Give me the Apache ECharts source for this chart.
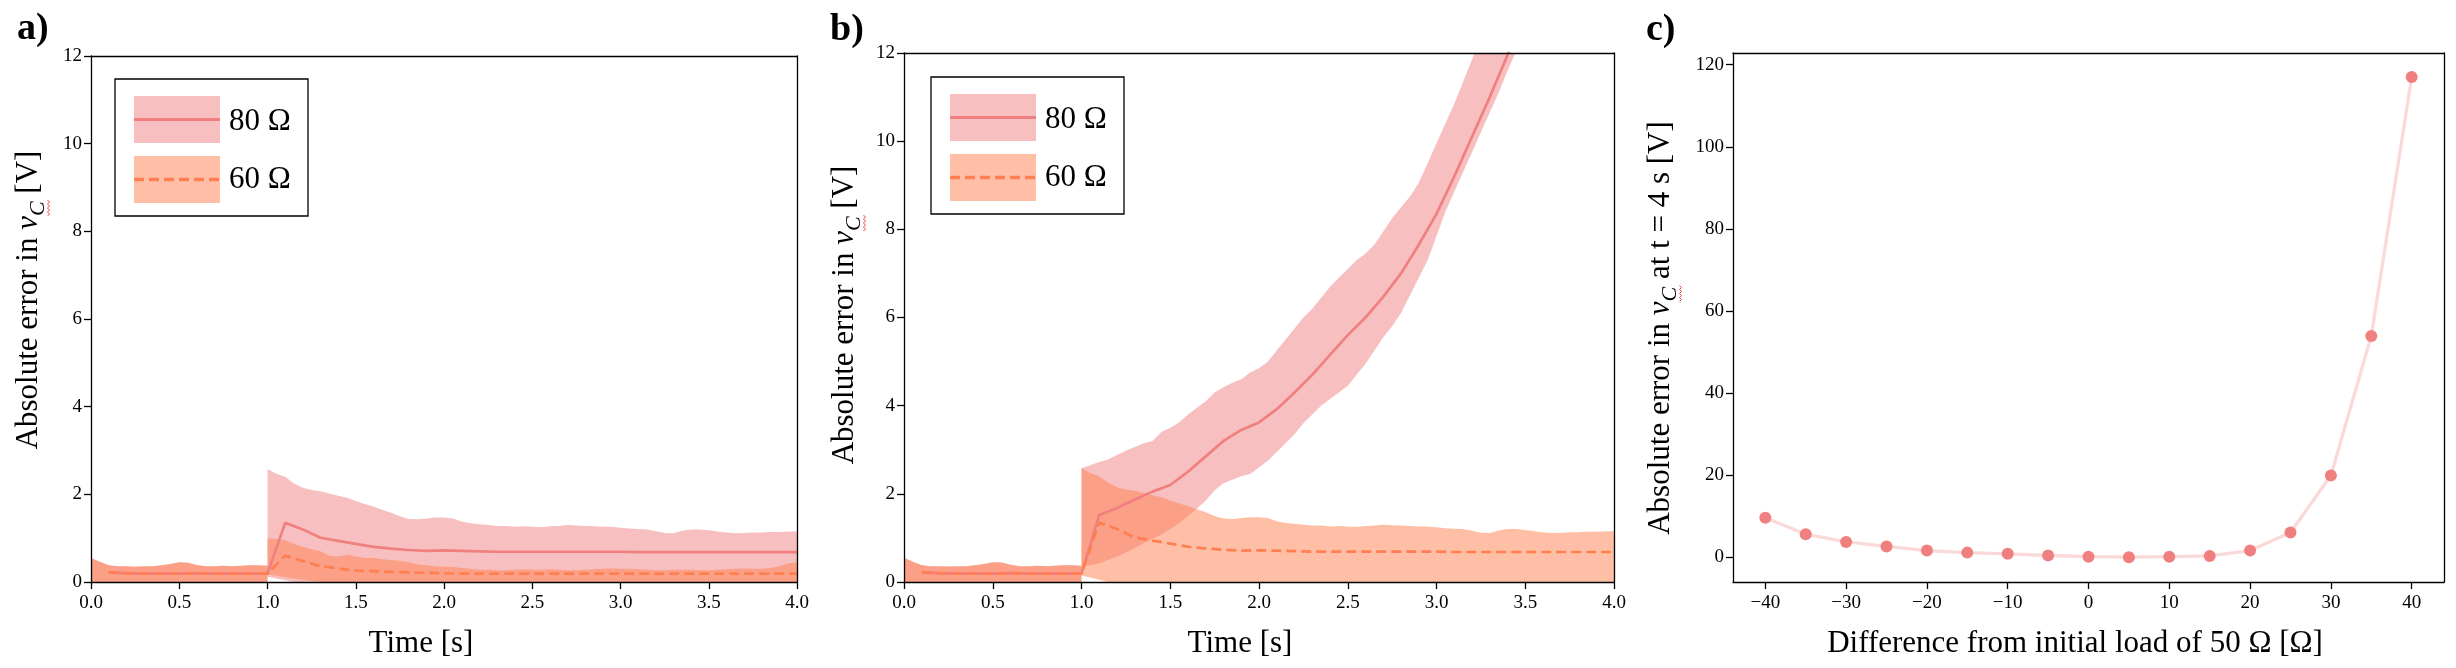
<!DOCTYPE html>
<html>
<head>
<meta charset="utf-8">
<script src="https://cdn.jsdelivr.net/npm/echarts@6/dist/echarts.min.js"></script>
<style>
html,body{margin:0;padding:0;background:#fff;}
#chart{width:2456px;height:668px;}
</style>
</head>
<body>
<div id="chart"></div>
<script>
// ---------------- DATA ----------------
// time samples for bands (before and after the load change at t = 1 s)
const tPre = [0,0.05,0.1,0.15,0.2,0.25,0.3,0.35,0.4,0.45,0.5,0.55,0.6,0.65,0.7,0.75,0.8,0.85,0.9,0.95,1.0];
const tPost = [1.0,1.05,1.1,1.15,1.2,1.25,1.3,1.35,1.4,1.45,1.5,1.55,1.6,1.65,1.7,1.75,1.8,1.85,1.9,1.95,
  2.0,2.05,2.1,2.15,2.2,2.25,2.3,2.35,2.4,2.45,2.5,2.55,2.6,2.65,2.7,2.75,2.8,2.85,2.9,2.95,
  3.0,3.05,3.1,3.15,3.2,3.25,3.3,3.35,3.4,3.45,3.5,3.55,3.6,3.65,3.7,3.75,3.8,3.85,3.9,3.95,4.0];
const tMean = [0.1,0.2,0.3,0.4,0.5,0.6,0.7,0.8,0.9,1.0,1.1,1.2,1.3,1.4,1.5,1.6,1.7,1.8,1.9,2.0,
  2.1,2.2,2.3,2.4,2.5,2.6,2.7,2.8,2.9,3.0,3.1,3.2,3.3,3.4,3.5,3.6,3.7,3.8,3.9,4.0];

// shared band before the change (all cases identical)
const preUpper = [0.55,0.46,0.38,0.36,0.36,0.35,0.36,0.36,0.38,0.41,0.45,0.44,0.39,0.36,0.36,0.37,0.36,0.37,0.38,0.38,0.37];
const preLowerT = [0,1.0];
const preLower = [0,0];

// panel a) 80 Ohm
const a80Upper = [2.58,2.47,2.40,2.25,2.15,2.10,2.07,2.02,1.97,1.92,
  1.85,1.78,1.72,1.65,1.58,1.50,1.44,1.43,1.45,1.47,
  1.47,1.45,1.38,1.34,1.32,1.30,1.28,1.28,1.26,1.27,
  1.26,1.25,1.27,1.28,1.30,1.29,1.28,1.27,1.26,1.26,
  1.24,1.22,1.21,1.20,1.16,1.12,1.11,1.17,1.20,1.20,
  1.18,1.15,1.13,1.11,1.12,1.13,1.13,1.14,1.14,1.15,1.15];
const a80LowerT = [1.0,1.05,1.1,1.15,4.0];
const a80Lower = [0.12,0.08,0.04,0,0];
const a80Mean = [0.22,0.20,0.19,0.19,0.19,0.20,0.19,0.19,0.19,0.19,
  1.35,1.20,1.01,0.94,0.87,0.80,0.76,0.73,0.71,0.72,
  0.71,0.70,0.69,0.69,0.69,0.69,0.69,0.69,0.69,0.69,
  0.68,0.68,0.68,0.68,0.68,0.68,0.68,0.68,0.68,0.68];

// panel a) 60 Ohm
const a60Upper = [1.00,0.98,0.95,0.87,0.80,0.75,0.70,0.60,0.58,0.62,
  0.58,0.55,0.55,0.52,0.50,0.48,0.45,0.40,0.38,0.36,
  0.35,0.34,0.32,0.30,0.28,0.28,0.27,0.27,0.28,0.29,
  0.28,0.28,0.29,0.28,0.27,0.27,0.28,0.29,0.30,0.31,
  0.30,0.30,0.29,0.28,0.27,0.27,0.28,0.28,0.28,0.27,
  0.27,0.28,0.29,0.30,0.31,0.30,0.30,0.32,0.36,0.42,0.45];
const a60LowerT = [1.0,1.05,1.1,1.15,1.2,1.25,1.3,4.0];
const a60Lower = [0.17,0.14,0.11,0.08,0.05,0.02,0,0];
const a60Mean = [0.22,0.20,0.19,0.19,0.19,0.20,0.19,0.19,0.19,0.19,
  0.60,0.48,0.36,0.31,0.26,0.25,0.23,0.22,0.21,0.20,
  0.19,0.19,0.19,0.19,0.19,0.19,0.19,0.19,0.19,0.19,
  0.19,0.19,0.19,0.19,0.19,0.19,0.19,0.19,0.19,0.19];

// panel b) 80 Ohm
const b80Upper = [2.58,2.65,2.72,2.78,2.88,2.98,3.06,3.15,3.20,3.40,
  3.50,3.62,3.80,3.95,4.10,4.30,4.42,4.52,4.60,4.75,
  4.85,5.00,5.25,5.50,5.75,6.00,6.20,6.45,6.70,6.90,
  7.10,7.30,7.45,7.65,7.95,8.25,8.50,8.74,9.05,9.50,
  9.95,10.40,10.85,11.35,11.85,12.30,12.80,13.30,13.80,14.30,
  14.90,15.40,16.00,16.60,17.20,17.80,18.50,19.20,19.90,20.60,21.40];
const b80Lower = [0.37,0.38,0.42,0.50,0.58,0.67,0.77,0.88,0.98,1.08,
  1.20,1.33,1.50,1.66,1.85,2.08,2.24,2.32,2.40,2.45,
  2.60,2.75,2.95,3.15,3.35,3.60,3.80,4.00,4.15,4.30,
  4.45,4.70,4.95,5.25,5.55,5.80,6.10,6.50,6.90,7.30,
  7.85,8.40,8.85,9.30,9.75,10.20,10.65,11.10,11.60,12.05,
  12.50,13.00,13.50,14.00,14.60,15.20,15.80,16.40,17.10,17.80,18.50];
const b80Mean = [0.22,0.20,0.19,0.19,0.19,0.20,0.19,0.19,0.19,0.19,
  1.52,1.68,1.87,2.05,2.20,2.50,2.85,3.20,3.45,3.62,
  3.92,4.30,4.70,5.15,5.60,6.00,6.47,7.00,7.65,8.35,
  9.20,10.10,11.00,11.95,13.00,14.10,15.30,16.60,18.20,19.90];

// panel b) 60 Ohm
const b60Upper = [2.58,2.47,2.40,2.25,2.15,2.10,2.07,2.02,1.97,1.92,
  1.85,1.78,1.72,1.65,1.58,1.50,1.44,1.43,1.45,1.47,
  1.47,1.45,1.38,1.34,1.32,1.30,1.28,1.28,1.26,1.27,
  1.26,1.25,1.27,1.28,1.30,1.29,1.28,1.27,1.26,1.26,
  1.24,1.22,1.21,1.20,1.16,1.12,1.11,1.17,1.20,1.20,
  1.18,1.15,1.13,1.11,1.12,1.13,1.13,1.14,1.14,1.15,1.15];
const b60LowerT = [1.0,1.05,1.1,1.15,4.0];
const b60Lower = [0.15,0.10,0.05,0,0];
const b60Mean = [0.22,0.20,0.19,0.19,0.19,0.20,0.19,0.19,0.19,0.19,
  1.35,1.20,1.01,0.94,0.87,0.80,0.76,0.73,0.71,0.72,
  0.71,0.70,0.69,0.69,0.69,0.69,0.69,0.69,0.69,0.69,
  0.68,0.68,0.68,0.68,0.68,0.68,0.68,0.68,0.68,0.68];

// panel c)
const cDiff = [-40,-35,-30,-25,-20,-15,-10,-5,0,5,10,15,20,25,30,35,40];
const cErr = [9.6,5.6,3.7,2.6,1.6,1.1,0.8,0.4,0.1,0.0,0.1,0.3,1.6,6.0,19.9,53.9,117.0];

const ticksAB_Y = [0,2,4,6,8,10,12];
const ticksC_X = [-40,-30,-20,-10,0,10,20,30,40];
const ticksC_Y = [0,20,40,60,80,100,120];

// ---------------- STYLE ----------------
const FONT = "'Liberation Serif', 'Times New Roman', serif";
const C80 = '#F08080';
const C60 = '#FF7F50';
const F80 = 'rgba(240,128,128,0.5)';
const F60 = 'rgba(255,127,80,0.5)';

const grids = [
  {left: 91, top: 56, width: 706, height: 526},
  {left: 904, top: 53, width: 710, height: 529},
  {left: 1733, top: 53, width: 711, height: 529}
];

const lineAx = {show: true, onZero: false, lineStyle: {color: '#000', width: 1.3}};
const tickAx = {show: true, length: 7, inside: false, lineStyle: {color: '#000', width: 1.3}};

function mainX(gi, opts) {
  return Object.assign({
    type: 'value', gridIndex: gi, z: 10,
    axisLine: lineAx, axisTick: tickAx, splitLine: {show: false},
    axisLabel: {fontSize: 19, fontFamily: FONT, color: '#000', margin: 12}
  }, opts);
}
function mainY(gi, opts) {
  return Object.assign({
    type: 'value', gridIndex: gi, z: 10,
    axisLine: lineAx, axisTick: tickAx, splitLine: {show: false},
    axisLabel: {fontSize: 19, fontFamily: FONT, color: '#000', margin: 9}
  }, opts);
}
function borderAxis(gi, pos, min, max, isX) {
  return {
    type: 'value', gridIndex: gi, position: pos, min: min, max: max, z: 10,
    axisLine: lineAx, axisTick: {show: false}, axisLabel: {show: false}, splitLine: {show: false}
  };
}

const xAxes = [
  mainX(0, {min: 0, max: 4, interval: 0.5, axisLabel: {fontSize: 19, fontFamily: FONT, color: '#000', margin: 12, formatter: v => v.toFixed(1)}}),
  mainX(1, {min: 0, max: 4, interval: 0.5, axisLabel: {fontSize: 19, fontFamily: FONT, color: '#000', margin: 12, formatter: v => v.toFixed(1)}}),
  mainX(2, {min: -44, max: 44,
    axisTick: Object.assign({customValues: ticksC_X}, tickAx),
    axisLabel: {fontSize: 19, fontFamily: FONT, color: '#000', margin: 12, customValues: ticksC_X,
      formatter: v => String(v).replace('-', '\u2212')}}),
  borderAxis(0, 'top', 0, 4), borderAxis(1, 'top', 0, 4), borderAxis(2, 'top', -44, 44)
];
const yAxes = [
  mainY(0, {min: 0, max: 12, interval: 2}),
  mainY(1, {min: 0, max: 12, interval: 2}),
  mainY(2, {min: -6.06, max: 122.86,
    axisTick: Object.assign({customValues: ticksC_Y}, tickAx),
    axisLabel: {fontSize: 19, fontFamily: FONT, color: '#000', margin: 9, customValues: ticksC_Y}}),
  borderAxis(0, 'right', 0, 12), borderAxis(1, 'right', 0, 12), borderAxis(2, 'right', -6.06, 122.86)
];

// band drawn as a polygon through the axis scales
function band(gi, upT1, up1, upT2, up2, loT2, lo2, loT1, lo1, fill) {
  return {
    type: 'custom', xAxisIndex: gi, yAxisIndex: gi, clip: true, silent: true,
    data: [[0, 0]],
    renderItem: function (params, api) {
      const pts = [];
      for (let i = 0; i < upT1.length; i++) pts.push(api.coord([upT1[i], up1[i]]));
      for (let i = 0; i < upT2.length; i++) pts.push(api.coord([upT2[i], up2[i]]));
      for (let i = loT2.length - 1; i >= 0; i--) pts.push(api.coord([loT2[i], lo2[i]]));
      for (let i = loT1.length - 1; i >= 0; i--) pts.push(api.coord([loT1[i], lo1[i]]));
      return {type: 'polygon', shape: {points: pts}, style: {fill: fill}};
    }
  };
}
function meanLine(gi, vals, color, dashed) {
  return {
    type: 'line', xAxisIndex: gi, yAxisIndex: gi, silent: true,
    data: tMean.map((t, i) => [t, vals[i]]),
    symbol: 'none', clip: true,
    lineStyle: {color: color, width: 2.7, type: dashed ? [10, 5] : 'solid', cap: 'butt'}
  };
}

const series = [
  band(0, tPre, preUpper, tPost, a80Upper, a80LowerT, a80Lower, preLowerT, preLower, F80),
  meanLine(0, a80Mean, C80, false),
  band(0, tPre, preUpper, tPost, a60Upper, a60LowerT, a60Lower, preLowerT, preLower, F60),
  meanLine(0, a60Mean, C60, true),
  band(1, tPre, preUpper, tPost, b80Upper, tPost, b80Lower, preLowerT, preLower, F80),
  meanLine(1, b80Mean, C80, false),
  band(1, tPre, preUpper, tPost, b60Upper, b60LowerT, b60Lower, preLowerT, preLower, F60),
  meanLine(1, b60Mean, C60, true),
  {
    type: 'line', xAxisIndex: 2, yAxisIndex: 2, silent: true,
    data: cDiff.map((d, i) => [d, cErr[i]]),
    symbol: 'circle', symbolSize: 12, showSymbol: true,
    itemStyle: {color: C80, borderWidth: 0},
    lineStyle: {color: 'rgba(240,128,128,0.3)', width: 3.3}
  }
];

// ---------------- TEXT / LEGEND GRAPHICS ----------------
const mctx = document.createElement('canvas').getContext('2d');
function measure(txt, size, italic) {
  mctx.font = (italic ? 'italic ' : '') + size + 'px ' + FONT;
  return mctx.measureText(txt).width;
}
function txt(text, size, opts) {
  return Object.assign({
    type: 'text',
    style: Object.assign({text: text, fontSize: size, fontFamily: FONT, fill: '#000',
      align: 'left', verticalAlign: 'middle', textAlign: 'left', textVerticalAlign: 'middle'}, opts && opts.style)
  }, opts && opts.el);
}
function yTitle(cx, cy, before, after) {
  const parts = [
    {t: before, size: 31, italic: false, dy: 0},
    {t: 'v', size: 31, italic: true, dy: 0},
    {t: 'C', size: 22, italic: true, dy: 9, squiggle: true},
    {t: after, size: 31, italic: false, dy: 0}
  ];
  const widths = parts.map(p => measure(p.t, p.size, p.italic));
  const W = widths.reduce((a, b) => a + b, 0);
  let x = -W / 2;
  const children = [];
  parts.forEach((p, i) => {
    children.push({
      type: 'text', x: x, y: p.dy,
      style: {text: p.t, fontSize: p.size, fontFamily: FONT, fontStyle: p.italic ? 'italic' : 'normal', fill: '#000',
        align: 'left', verticalAlign: 'middle', textAlign: 'left', textVerticalAlign: 'middle'}
    });
    if (p.squiggle) {
      const pts = [];
      const y0 = p.dy + 10;
      for (let k = 0; k <= Math.ceil(widths[i] / 2); k++) pts.push([x + k * 2, y0 + (k % 2 ? 1.5 : -0.5)]);
      children.push({type: 'polyline', shape: {points: pts}, style: {stroke: '#E03030', lineWidth: 0.9, fill: null}});
    }
    x += widths[i];
  });
  return {type: 'group', x: cx, y: cy, rotation: Math.PI / 2, children: children};
}
function legend(bx, by) {
  return {
    type: 'group', x: bx, y: by, children: [
      {type: 'rect', shape: {x: 0, y: 0, width: 193, height: 137}, style: {fill: '#fff', stroke: '#000', lineWidth: 1.3}},
      {type: 'rect', shape: {x: 19, y: 17, width: 86, height: 47}, style: {fill: F80}},
      {type: 'line', shape: {x1: 19, y1: 40.5, x2: 105, y2: 40.5}, style: {stroke: C80, lineWidth: 3}},
      {type: 'rect', shape: {x: 19, y: 77, width: 86, height: 47}, style: {fill: F60}},
      {type: 'line', shape: {x1: 19, y1: 100.5, x2: 105, y2: 100.5}, style: {stroke: C60, lineWidth: 3.5, lineDash: [10, 5]}},
      txt('80 \u03A9', 31, {el: {x: 114, y: 43}}),
      txt('60 \u03A9', 31, {el: {x: 114, y: 101}})
    ]
  };
}
function centered(text, size, x, y) {
  return {type: 'text', x: x, y: y, style: {text: text, fontSize: size, fontFamily: FONT, fill: '#000',
    align: 'center', verticalAlign: 'middle', textAlign: 'center', textVerticalAlign: 'middle'}};
}
function panelLabel(text, x, y) {
  return {type: 'text', x: x, y: y, style: {text: text, fontSize: 38, fontWeight: 'bold', fontFamily: FONT, fill: '#000',
    align: 'left', verticalAlign: 'middle', textAlign: 'left', textVerticalAlign: 'middle'}};
}

const graphics = [
  panelLabel('a)', 17, 29),
  panelLabel('b)', 830, 30),
  panelLabel('c)', 1646, 30),
  centered('Time [s]', 31, 421, 644),
  centered('Time [s]', 31, 1240, 644),
  centered('Difference from initial load of 50 \u03A9 [\u03A9]', 31, 2075, 644),
  yTitle(29, 300, 'Absolute error in ', ' [V]'),
  yTitle(845, 315, 'Absolute error in ', ' [V]'),
  yTitle(1661, 328, 'Absolute error in ', ' at t = 4 s [V]'),
  legend(115, 79),
  legend(931, 77)
];

const chart = echarts.init(document.getElementById('chart'), null, {renderer: 'canvas', width: 2456, height: 668});
chart.setOption({
  animation: false,
  backgroundColor: '#fff',
  grid: grids,
  xAxis: xAxes,
  yAxis: yAxes,
  series: series,
  graphic: {elements: graphics}
});
</script>
</body>
</html>
